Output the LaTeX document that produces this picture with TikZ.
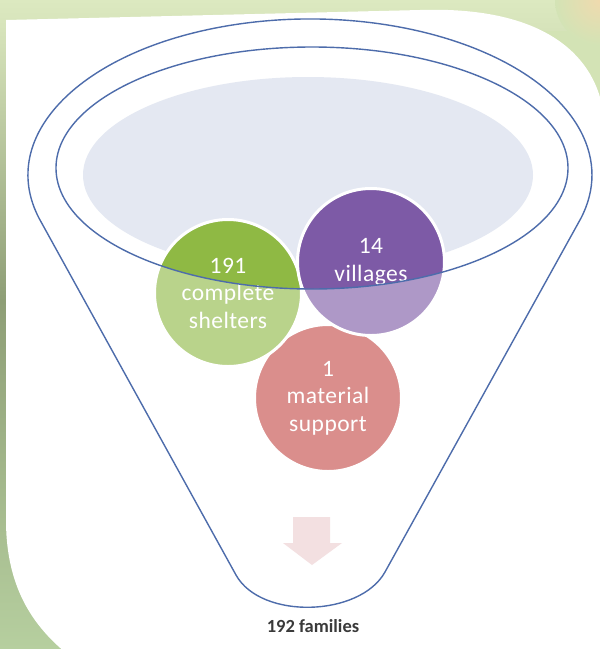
\documentclass[tikz,border=0pt]{standalone}
\usepackage{fontspec}
\setmainfont{Carlito}
\newfontfamily\circfont[LetterSpace=2]{Carlito}
\definecolor{bgmain}{HTML}{D3E3B5}
\definecolor{bglight}{HTML}{D6E3BA}
\definecolor{bgdark}{HTML}{8E9E76}
\definecolor{bgbottom}{HTML}{B6CF9F}
\definecolor{bgtop}{HTML}{DCE9C0}
\definecolor{bgorange}{HTML}{F0DAAE}
\definecolor{funnelline}{HTML}{4D6CAB}
\definecolor{openfill}{HTML}{E4E8F2}
\definecolor{cgreen}{HTML}{8FB944}
\definecolor{cpurple}{HTML}{7D5AA6}
\definecolor{cpink}{HTML}{C44A47}
\definecolor{arrowpink}{HTML}{F3E0E1}
\definecolor{labelgrey}{HTML}{3A3A3A}
\tikzset{
  bubble/.style={circle, draw=white, line width=3pt, minimum size=147pt, inner sep=0pt,
    align=center, text=white, font=\circfont\fontsize{23.5}{27.5}\selectfont},
  funnelstroke/.style={draw=funnelline, line width=1.4pt}
}
\begin{document}
\begin{tikzpicture}[x=1pt,y=-1pt]
\useasboundingbox (0,0) rectangle (600,649);
% background
\fill[bgmain] (0,0) rectangle (600,649);
\shade[top color=bglight, bottom color=bgdark] (0,30) rectangle (90,300);
\shade[top color=bgdark, bottom color=bgbottom] (0,300) rectangle (90,649);
\shade[top color=bgtop, bottom color=bglight] (0,0) rectangle (600,30);
\shade[inner color=bgorange, outer color=bgmain] (600,0) circle (45);
% card
\fill[white] (6,20) -- (420,10) .. controls (540,6) and (593,52) .. (603,110)
  -- (610,660) -- (75,660) .. controls (35,630) and (6,590) .. (6,520) -- cycle;
% opening fill
\fill[openfill] (308,175) ellipse [x radius=225, y radius=98];
% circles
\node[bubble, fill=cpink] (pink) at (328,398) {1\\material\\support};
\node[bubble, fill=cgreen] (green) at (228,293) {191\\complete\\shelters};
\node[bubble, fill=cpurple] (purple) at (371,262) {14\\villages};
% translucent funnel body
\fill[white, opacity=0.38, even odd rule]
  (236,575) -- (39.2,218.5) arc[start angle=163.8, end angle=376.2, x radius=282, y radius=156]
  -- (385,572) .. controls (360,617) and (261,620) .. (236,575)
  (312,168) ellipse [x radius=256, y radius=121];
% outlines
\draw[funnelstroke]
  (236,575) -- (39.2,218.5) arc[start angle=163.8, end angle=376.2, x radius=282, y radius=156]
  -- (385,572) .. controls (360,617) and (261,620) .. (236,575);
\draw[funnelstroke] (312,168) ellipse [x radius=256, y radius=121];
% arrow
\fill[arrowpink] (293,517) -- (330,517) -- (330,543) -- (342,543) -- (312,565)
  -- (283,543) -- (293,543) -- cycle;
% label
\node[text=labelgrey, font=\bfseries\fontsize{18.5}{22}\selectfont] (total) at (313,626) {192 families};
\end{tikzpicture}
\end{document}
